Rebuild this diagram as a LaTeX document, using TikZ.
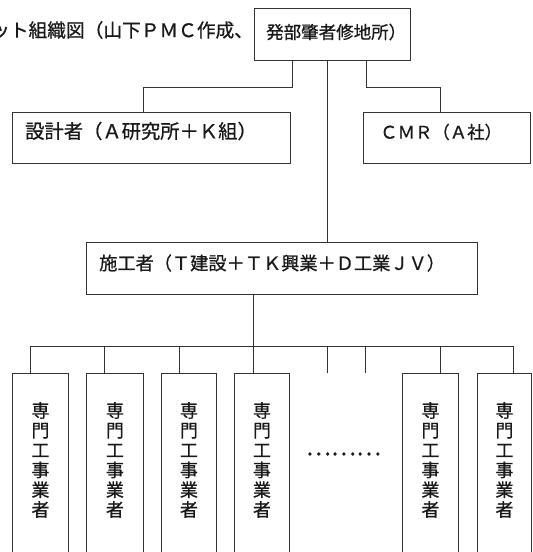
\documentclass[tikz,border=0pt]{standalone}
\usepackage{fontspec}
\newfontfamily\jp[RawFeature={embolden=0.8}]{Noto Sans CJK JP}
\usetikzlibrary{calc}
\begin{document}
\begin{tikzpicture}[x=1pt,y=-1pt,
  every node/.style={inner sep=0pt, text=black!90},
  box/.style={draw=black!80, line width=0.9pt, rectangle, anchor=north west, inner sep=0pt},
  lbl/.style={anchor=west, font=\jp\fontsize{18.5}{20}\selectfont},
  vlbl/.style={align=center, font=\jp\fontsize{18}{19.8}\selectfont},
  conn/.style={draw=black!80, line width=0.9pt}]
\useasboundingbox (0,0) rectangle (533,552);
\fill[white] (0,0) rectangle (533,552);

% title
\node[lbl, font=\jp\fontsize{18.7}{20}\selectfont] (title) at (-9,30) {ット組織図（山下ＰＭＣ作成、};

% top box
\node[box, minimum width=156pt, minimum height=52pt] (top) at (254,8) {};
\node[lbl, font=\jp\fontsize{17.5}{20}\selectfont] (toptext) at (266,32) {発部肇者修地所）};

% designer and CMR
\node[box, minimum width=278pt, minimum height=51pt] (des) at (12,112) {};
\node[lbl, font=\jp\fontsize{19.3}{20}\selectfont] (destext) at (25,131) {設計者（Ａ研究所＋Ｋ組）};
\node[box, minimum width=167pt, minimum height=51pt] (cmr) at (363,112) {};
\node[lbl, font=\jp\fontsize{17.4}{20}\selectfont] (cmrtext) at (380,132) {ＣＭＲ（Ａ社）};

% contractor
\node[box, minimum width=391pt, minimum height=52pt] (con) at (86,242) {};
\node[lbl, font=\jp\fontsize{18.2}{20}\selectfont] (context) at (99,263) {施工者（Ｔ建設＋ＴＫ興業＋Ｄ工業ＪＶ）};

% connectors top
\coordinate (bl) at (292,87);
\coordinate (bl2) at (143,87);
\coordinate (br) at (366,87);
\coordinate (br2) at (440,87);
\coordinate (cx) at (327,0);
\draw[conn] (top.south -| bl) -- (bl) -- (bl2) -- (des.north -| bl2);
\draw[conn] (top.south -| br) -- (br) -- (br2) -- (cmr.north -| br2);
\draw[conn] (top.south -| cx) -- (con.north -| cx);

% sub-contractors
\foreach \n/\l/\w in {b1/12/56, b2/86/57, b3/161/55, b4/234/55, b5/402/56, b6/477/54}{
  \node[box, minimum width=\w pt, minimum height=190pt] (\n) at (\l,373) {};
  \node[vlbl] (\n t) at ($(\n.north)+(0,87)$) {専\\門\\工\\事\\業\\者};
}

% bus
\coordinate (bus) at (253,346);
\coordinate (busL) at (30,346);
\coordinate (busR) at (513,346);
\draw[conn] (con.south -| bus) -- (bus);
\draw[conn] (busL) -- (busR);
\foreach \n/\x in {b1/30, b2/104, b3/179, b4/253, b5/440, b6/513}{
  \coordinate (d\n) at (\x,346);
  \draw[conn] (d\n) -- (\n.north -| d\n);
}
\coordinate (s1) at (327,346);
\coordinate (s1e) at (327,373);
\coordinate (s2) at (365,346);
\coordinate (s2e) at (365,373);
\draw[conn] (s1) -- (s1e);
\draw[conn] (s2) -- (s2e);

% dots
\node[font=\jp\fontsize{23.7}{24}\selectfont] (dots) at (343.5,454) {………};
\end{tikzpicture}
\end{document}
